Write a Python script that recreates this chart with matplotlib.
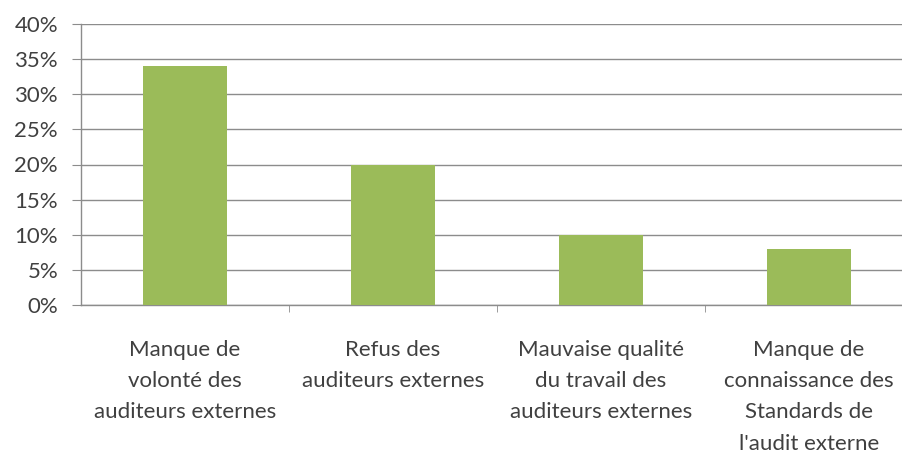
import matplotlib
matplotlib.use("Agg")
import matplotlib.pyplot as plt
from matplotlib.ticker import FixedLocator, NullFormatter

categories = [
    "Manque de\nvolonté des\nauditeurs externes",
    "Refus des\nauditeurs externes",
    "Mauvaise qualité\ndu travail des\nauditeurs externes",
    "Manque de\nconnaissance des\nStandards de\nl'audit externe",
]
values = [34, 20, 10, 8]
yticks = [0, 5, 10, 15, 20, 25, 30, 35, 40]
ytick_labels = ["0%", "5%", "10%", "15%", "20%", "25%", "30%", "35%", "40%"]

plt.rcParams['font.family'] = ['Lato', 'DejaVu Sans']
W, H = 903, 453
fig = plt.figure(figsize=(W/100, H/100), dpi=100)
left, right = 81, 903
top, bottom = 24, 305
ax = fig.add_axes([left/W, 1 - bottom/H, (right-left)/W, (bottom-top)/H])

x = list(range(len(values)))
ax.bar(x, values, width=0.40, color="#9BBB59", zorder=3)
ax.set_ylim(0, 40)
ax.set_xlim(-0.5, 3.5 - 10/208)
ax.set_yticks(yticks)
ax.set_yticklabels(ytick_labels, fontsize=16, color="#404040")
ax.yaxis.grid(True, color="#8c8c8c", linewidth=1.0, zorder=0)
ax.tick_params(axis='y', length=6.5, color="#8c8c8c", pad=10)

ax.set_xticks(x)
ax.set_xticklabels(categories, fontsize=16, color="#404040", linespacing=1.71)
ax.tick_params(axis='x', which='major', length=0, pad=25)
ax.xaxis.set_minor_locator(FixedLocator([0.5, 1.5, 2.5]))
ax.xaxis.set_minor_formatter(NullFormatter())
ax.tick_params(axis='x', which='minor', length=5, color="#8c8c8c")

for s in ['top', 'right']:
    ax.spines[s].set_visible(False)
for s in ['left', 'bottom']:
    ax.spines[s].set_color("#8c8c8c")
    ax.spines[s].set_linewidth(1.0)

fig.savefig("out.png", dpi=100)
